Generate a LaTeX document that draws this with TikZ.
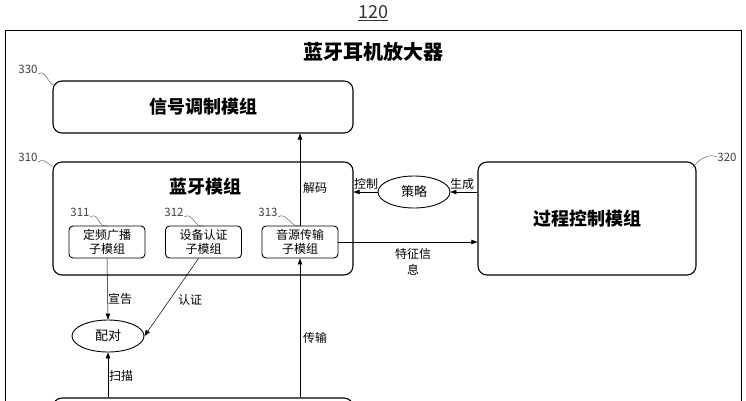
\documentclass[tikz,border=0pt]{standalone}
\usepackage{fontspec}
\setmainfont{Noto Sans CJK SC}
\usetikzlibrary{shapes.geometric, arrows.meta, positioning, calc}

\tikzset{
	module/.style={draw, line width=1.1pt, rounded corners=9pt, minimum width=300pt, minimum height=52pt, inner sep=0pt},
	modtext/.style={font=\bfseries\fontsize{18}{21}\selectfont},
	submodule/.style={draw, line width=0.9pt, rounded corners=4pt, minimum width=76pt, minimum height=32pt, inner sep=0pt, align=center, font=\fontsize{12}{13.5}\selectfont},
	state/.style={draw, line width=0.9pt, ellipse, minimum width=72pt, minimum height=32pt, inner sep=0pt, font=\fontsize{13}{15}\selectfont},
	flow/.style={-{Triangle[length=6pt,width=4.5pt]}, line width=0.5pt},
	tag/.style={font=\fontsize{12}{14}\selectfont, inner sep=1pt},
	refnum/.style={font=\fontsize{11.5}{13}\selectfont, text=black!75, inner sep=0.5pt},
	lead/.style={line width=0.4pt, black!70}
}

\begin{document}
\begin{tikzpicture}[x=1pt, y=-1pt, >=Stealth]
	\useasboundingbox (0,0) rectangle (746,400);
	% outer frame and title
	\node[font=\fontsize{18}{20}\selectfont, text=black!80] (fig) at (373,13) {\underline{120}};
	\draw[line width=1pt] (5,430) |- (741,30) -- (741,430);
	\node[modtext, font=\bfseries\fontsize{20}{23}\selectfont] (amp) at (373,52) {蓝牙耳机放大器};

	% modules
	\node[module] (mod) at (203,107) {};
	\node[modtext] (modtxt) at (mod) {信号调制模组};
	\node[module, minimum height=113pt] (bt) at (203,218.5) {};
	\node[modtext] (bttxt) at (205,187) {蓝牙模组};
	\node[module, minimum width=218pt, minimum height=113pt] (ctrl) at (587,218.5) {};
	\node[modtext] (ctrltxt) at (587,219) {过程控制模组};
	\node[module] (src) at (203,424) {};

	% sub modules
	\node[submodule] (adv) at (107,242) {定频广播\\子模组};
	\node[submodule] (auth) at (203.5,242) {设备认证\\子模组};
	\node[submodule] (tx) at (300,242) {音源传输\\子模组};

	% ellipses
	\node[state] (strat) at (414,192) {策略};
	\node[state] (pair) at (108,336) {配对};

	% connectors
	\draw[flow] (tx.south |- src.north) -- (tx.south);
	\draw[flow] (tx.north) -- (tx.north |- mod.south);
	\draw[flow] (strat -| ctrl.west) -- (strat.east);
	\draw[flow] (strat.west) -- (strat -| bt.east);
	\draw[flow] (tx.east) -- (tx.east -| ctrl.west);
	\draw[flow] (adv.south) -- (pair.north);
	\draw[flow] ($(auth.south)+(-5,0)$) -- (pair.east);
	\draw[flow] (pair.south |- src.north) -- (pair.south);

	% connector labels
	\node[tag] (decode) at (315,188) {解码};
	\node[tag] (trans) at (315,338) {传输};
	\node[tag] (ctl) at (366,184) {控制};
	\node[tag] (gen) at (462,184) {生成};
	\node[tag, align=center, font=\fontsize{12}{16}\selectfont] (feat) at (413,262) {特征信\\息};
	\node[tag] (announce) at (120,299) {宣告};
	\node[tag] (verify) at (190,300) {认证};
	\node[tag] (scan) at (121,376) {扫描};

	% reference numbers
	\node[refnum] (n330) at (28,69) {330};
	\node[refnum] (n310) at (28,157) {310};
	\node[refnum] (n311) at (80,212) {311};
	\node[refnum] (n312) at (174,212) {312};
	\node[refnum] (n313) at (268,212) {313};
	\node[refnum] (n320) at (727,157) {320};
	\draw[lead] (n330.south east) .. controls +(8,-6) and +(-8,4) .. ($(mod.north west)+(4,4)$);
	\draw[lead] (n310.south east) .. controls +(8,-6) and +(-8,4) .. ($(bt.north west)+(4,4)$);
	\draw[lead] (n311.south east) .. controls +(8,-6) and +(-8,4) .. (adv.north);
	\draw[lead] (n312.south east) .. controls +(8,-6) and +(-8,4) .. (auth.north);
	\draw[lead] (n313.south east) .. controls +(8,-6) and +(-8,4) .. (tx.north);
	\draw[lead] (n320.west) .. controls +(-8,-4) and +(6,-8) .. ($(ctrl.north east)+(-4,6)$);
\end{tikzpicture}
\end{document}
